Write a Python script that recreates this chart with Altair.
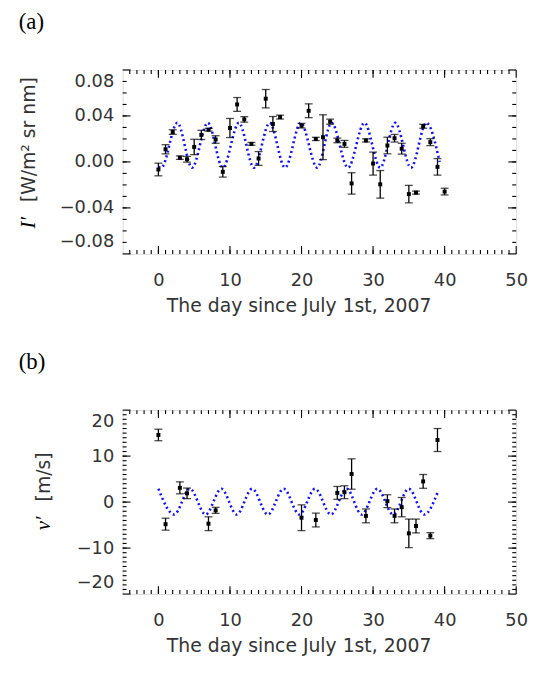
import altair as alt
import pandas as pd

# ---------------- Panel (a) data ----------------
a_day = [0, 1, 2, 3, 4, 5, 6, 7, 8, 9, 10, 11, 12, 13, 14, 15, 16, 17, 20, 21,
         22, 23, 24, 25, 26, 27, 29, 30, 31, 32, 33, 34, 35, 36, 37, 38, 39, 40]
a_val = [-0.0066, 0.011, 0.026, 0.0037, 0.0023, 0.013, 0.0235, 0.028, 0.0195, -0.0086,
         0.0295, 0.050, 0.037, 0.0157, 0.003, 0.055, 0.033, 0.039, 0.0315, 0.0445,
         0.020, 0.0215, 0.035, 0.0187, 0.0157, -0.0187, 0.0187, -0.0014, -0.0195, 0.0143,
         0.0206, 0.0115, -0.028, -0.0267, 0.031, 0.0172, -0.0043, -0.0258]
a_err = [0.0055, 0.004, 0.002, 0.0015, 0.0025, 0.0067, 0.004, 0.0012, 0.0033, 0.0046,
         0.0083, 0.006, 0.0024, 0.0012, 0.006, 0.008, 0.0065, 0.0017, 0.002, 0.006,
         0.0014, 0.0195, 0.0022, 0.002, 0.003, 0.0093, 0.0014, 0.010, 0.012, 0.0072,
         0.0033, 0.0047, 0.0076, 0.0013, 0.0017, 0.003, 0.0072, 0.0029]

# model curve (a): extrema
a_curve_x = [0.0, 0.4, 2.65, 4.7, 6.9, 9.0, 11.25, 13.35, 15.55, 17.7, 19.9, 22.2,
             24.2, 26.5, 28.8, 31.0, 33.1, 35.3, 37.45, 39.3]
a_curve_y = [-0.0045, -0.005, 0.034, -0.005, 0.034, -0.005, 0.034, -0.005, 0.034, -0.005,
             0.034, -0.005, 0.034, -0.005, 0.034, -0.005, 0.034, -0.005, 0.034, 0.0]

# ---------------- Panel (b) data ----------------
b_day = [0, 1, 3, 4, 7, 8, 20, 22, 25, 26, 27, 29, 32, 33, 34, 35, 36, 37, 38, 39]
b_val = [14.6, -4.8, 3.1, 1.9, -4.7, -1.8, -3.4, -3.9, 2.0, 2.15,
         6.1, -3.0, 0.2, -3.0, -1.1, -6.8, -5.2, 4.5, -7.3, 13.5]
b_err = [1.25, 1.3, 1.3, 1.15, 1.5, 0.65, 2.8, 1.5, 1.4, 1.4,
         3.3, 1.5, 1.4, 1.5, 2.1, 3.1, 1.5, 1.5, 0.65, 2.5]

b_curve_x = [0.0, 2.2, 4.4, 6.6, 8.8, 10.95, 13.1, 15.3, 17.5, 19.7, 21.9, 24.1,
             26.3, 28.4, 30.6, 32.8, 35.0, 37.15, 39.0]
b_curve_y = [2.9, -2.7, 2.9, -2.7, 2.9, -2.7, 2.9, -2.7, 2.9, -2.7, 2.9, -2.7,
             2.9, -2.7, 2.9, -2.7, 2.9, -2.7, 2.0]

x_major = [0, 10, 20, 30, 40, 50]
x_minor = list(range(-4, 50))
a_y_major = [-0.08, -0.04, 0.0, 0.04, 0.08]
a_y_minor = [round(-0.07 + 0.01 * i, 2) for i in range(15)]
b_y_major = [-20, -10, 0, 10, 20]
b_y_minor = list(range(-19, 20))

W, H = 398, 186
SANS = "DejaVu Sans"
SERIF = "Liberation Serif"
LBL = 18
INK = "#333333"
BLUE = "#1010ff"
MAJ, MIN = 8, 4


def make_panel(days, vals, errs, cx, cy, ydom, ymaj, ymin, yfmt, ytitle, ysym,
               ytx, yty, symty, ptitle):
    pts = pd.DataFrame({"day": days, "val": vals,
                        "lo": [v - e for v, e in zip(vals, errs)],
                        "hi": [v + e for v, e in zip(vals, errs)]})
    cur = pd.DataFrame({"day": cx, "val": cy})
    xs = alt.Scale(domain=[-5, 50], nice=False, zero=False)
    ys = alt.Scale(domain=ydom, nice=False, zero=False)

    x_lab = alt.Axis(orient="bottom", values=x_major, ticks=False, tickSize=0, domain=False,
                     grid=False, labelFont=SANS, labelFontSize=LBL, labelColor=INK,
                     labelPadding=18, title="The day since July 1st, 2007",
                     titleFont=SANS, titleFontSize=19, titleFontWeight="normal",
                     titleColor=INK, titleAlign="center", titleBaseline="middle",
                     titleX=178, titleY=52, labelFlush=False)
    y_lab = alt.Axis(orient="left", values=ymaj, ticks=False, tickSize=0, domain=False,
                     grid=False, format=yfmt, labelFont=SANS, labelFontSize=LBL,
                     labelColor=INK, labelPadding=9, labelFlush=True, labelFlushOffset=-3,
                     title=ytitle, titleFont=SANS, titleFontSize=19,
                     titleFontWeight="normal", titleColor=INK, titleAngle=270,
                     titleBaseline="middle", titleAlign="center", titleX=ytx, titleY=yty)
    y_sym = alt.Axis(orient="left", labels=False, ticks=False, domain=False, grid=False,
                     title=ysym, titleFont=SERIF, titleFontStyle="italic",
                     titleFontSize=21, titleFontWeight="normal", titleColor="black",
                     titleAngle=270, titleBaseline="middle", titleAlign="center",
                     titleX=ytx, titleY=symty)

    curve = alt.Chart(cur).mark_line(
        color=BLUE, strokeWidth=2.6, strokeDash=[2, 3], interpolate="monotone"
    ).encode(x=alt.X("day:Q", scale=xs, axis=x_lab),
             y=alt.Y("val:Q", scale=ys, axis=y_lab))
    sym = alt.Chart(cur).mark_point(opacity=0).encode(
        x=alt.X("day:Q", scale=xs, axis=None),
        y=alt.Y("val:Q", scale=ys, axis=y_sym))

    bars = alt.Chart(pts).mark_rule(color="black", strokeWidth=1.3).encode(
        x=alt.X("day:Q", scale=xs, axis=None),
        y=alt.Y("lo:Q", scale=ys, axis=None), y2="hi:Q")
    cap_lo = alt.Chart(pts).mark_tick(color="black", orient="horizontal", size=8,
                                      thickness=1.3).encode(
        x=alt.X("day:Q", scale=xs, axis=None), y=alt.Y("lo:Q", scale=ys, axis=None))
    cap_hi = alt.Chart(pts).mark_tick(color="black", orient="horizontal", size=8,
                                      thickness=1.3).encode(
        x=alt.X("day:Q", scale=xs, axis=None), y=alt.Y("hi:Q", scale=ys, axis=None))
    dots = alt.Chart(pts).mark_square(color="black", size=16, opacity=1).encode(
        x=alt.X("day:Q", scale=xs, axis=None), y=alt.Y("val:Q", scale=ys, axis=None))

    # inward tick marks on all four sides, placed through the scales
    tick_layers = []
    for vals_x, ln in ((x_major, MAJ), (x_minor, MIN)):
        d = pd.DataFrame({"v": vals_x})
        for y0, y1 in ((H, H - ln), (0, ln)):
            tick_layers.append(alt.Chart(d).mark_rule(color="black", strokeWidth=1.1).encode(
                x=alt.X("v:Q", scale=xs, axis=None), y=alt.value(y0), y2=alt.value(y1)))
    for vals_y, ln in ((ymaj, MAJ), (ymin, MIN)):
        d = pd.DataFrame({"v": vals_y})
        for x0, x1 in ((0, ln), (W, W - ln)):
            tick_layers.append(alt.Chart(d).mark_rule(color="black", strokeWidth=1.1).encode(
                y=alt.Y("v:Q", scale=ys, axis=None), x=alt.value(x0), x2=alt.value(x1)))

    return alt.layer(curve, sym, bars, cap_lo, cap_hi, dots, *tick_layers).resolve_axis(
        x="independent", y="independent"
    ).properties(
        width=W, height=H,
        title=alt.TitleParams(ptitle, anchor="start", frame="group", dx=-105,
                              font=SERIF, fontSize=23, fontWeight="normal",
                              color="black", offset=36)
    )


pa = make_panel(a_day, a_val, a_err, a_curve_x, a_curve_y, [-0.08, 0.08],
                a_y_major, a_y_minor, ".2f", "[W/m² sr nm]", "I′",
                -95, 70, 154, "(a)")
pb = make_panel(b_day, b_val, b_err, b_curve_x, b_curve_y, [-20, 20],
                b_y_major, b_y_minor, "d", "[m/s]", "v′",
                -80, 67, 114, "(b)")

chart = alt.vconcat(pa, pb, spacing=34).properties(
    padding={"left": 17, "top": 6, "right": 5, "bottom": 5}
).configure_view(stroke="black", strokeWidth=1.5).configure(background="white")

chart.save("out.html", embed_options={"renderer": "svg", "actions": False})
